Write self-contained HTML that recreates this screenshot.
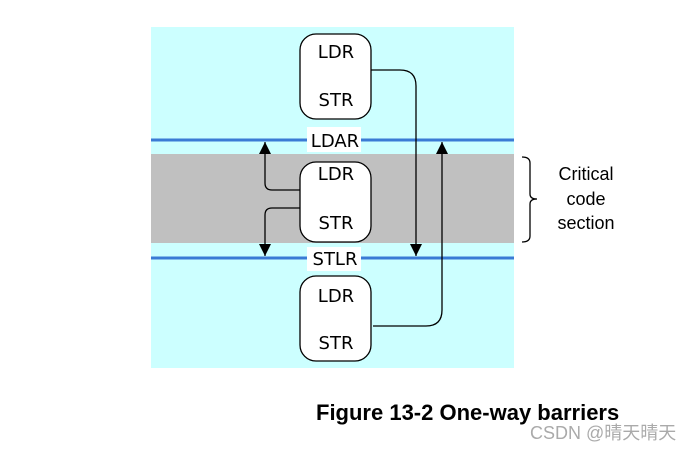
<!DOCTYPE html>
<html><head><style>
body{margin:0;width:692px;height:450px;background:#fff;overflow:hidden}
</style></head><body>
<svg width="692" height="450" xmlns="http://www.w3.org/2000/svg" style="position:absolute;left:0;top:0">
<defs><marker id="a" markerWidth="14" markerHeight="14" refX="12" refY="6" orient="auto" markerUnits="userSpaceOnUse"><path d="M0,0 L12,6 L0,12 Z" fill="#000"/></marker></defs>
<rect x="151" y="27" width="363" height="341" fill="#ccffff"/>
<rect x="151" y="154" width="363" height="89" fill="#c0c0c0"/>
<line x1="151" y1="140" x2="514" y2="140" stroke="#3a7bd5" stroke-width="3"/>
<line x1="151" y1="258" x2="514" y2="258" stroke="#3a7bd5" stroke-width="3"/>
<rect x="307" y="127" width="54" height="25" fill="#fff"/>
<rect x="307" y="247" width="54" height="24" fill="#fff"/>
<g font-family="DejaVu Sans, sans-serif" font-size="18" text-anchor="middle" fill="#000">
<text x="335" y="147">LDAR</text>
<text x="335" y="265">STLR</text>
</g>
<g fill="#fff" stroke="#000" stroke-width="1.3">
<rect x="300" y="34" width="71" height="85" rx="16"/>
<rect x="300" y="162" width="71" height="80" rx="16"/>
<rect x="300" y="276" width="71" height="85" rx="16"/>
</g>
<g font-family="DejaVu Sans, sans-serif" font-size="18" text-anchor="middle">
<text x="336" y="58">LDR</text><text x="336" y="106">STR</text>
<text x="336" y="180">LDR</text><text x="336" y="229">STR</text>
<text x="336" y="302">LDR</text><text x="336" y="349">STR</text>
</g>
<g fill="none" stroke="#000" stroke-width="1.3">
<path d="M371,70 H400 Q416,70 416,86 V256" marker-end="url(#a)"/>
<path d="M373,326 H426 Q442,326 442,310 V142" marker-end="url(#a)"/>
<path d="M300,190 H272 Q265,190 265,183 V142" marker-end="url(#a)"/>
<path d="M300,208 H272 Q265,208 265,215 V256" marker-end="url(#a)"/>
<path d="M522,157 Q530,157 530,163 V194 Q530,199 537,199 Q530,199 530,204 V236 Q530,242 522,242"/>
</g>
<g font-family="Liberation Sans, sans-serif" font-size="18" text-anchor="middle">
<text x="586" y="180">Critical</text>
<text x="586" y="205">code</text>
<text x="586" y="229">section</text>
</g>
<text x="316" y="420" font-family="Liberation Sans, sans-serif" font-size="22" font-weight="bold">Figure 13-2 One-way barriers</text>
<text x="530" y="439" font-family="Liberation Sans, 'Noto Sans CJK SC', sans-serif" font-size="18" fill="#aaa">CSDN @晴天晴天</text>
</svg>
</body></html>
